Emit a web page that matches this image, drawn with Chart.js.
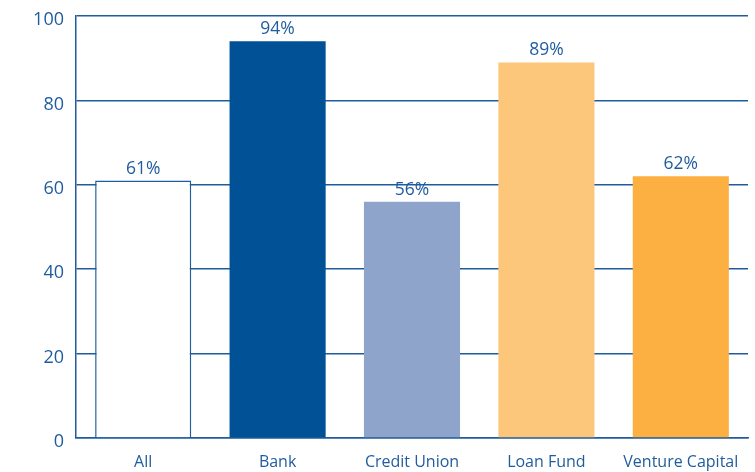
<!DOCTYPE html>
<html>
<head>
<meta charset="utf-8">
<script src="https://cdn.jsdelivr.net/npm/chart.js@4"></script>
<style>
  html, body { margin: 0; padding: 0; background: #fff; }
  #wrap { width: 755px; height: 472px; }
</style>
</head>
<body>
<div id="wrap"><canvas id="chart"></canvas></div>
<script>
const categories = ['All', 'Bank', 'Credit Union', 'Loan Fund', 'Venture Capital'];
const values = [61, 94, 56, 89, 62];
const barColors = ['#ffffff', '#005196', '#8fa4cb', '#fcc77b', '#fbb041'];
const yTicks = [0, 20, 40, 60, 80, 100];

const blue = '#1f5c9e';
const font = '"Open Sans", "DejaVu Sans", sans-serif';

// percent labels above each bar
const valueLabels = {
    id: 'valueLabels',
    afterDatasetsDraw(chart) {
        const ctx = chart.ctx;
        const meta = chart.getDatasetMeta(0);
        ctx.save();
        ctx.fillStyle = blue;
        ctx.font = '17.5px ' + font;
        ctx.textAlign = 'center';
        ctx.textBaseline = 'middle';
        meta.data.forEach((bar, i) => {
            ctx.fillText(values[i] + '%', bar.x, bar.y - 12);
        });
        ctx.restore();
    }
};

new Chart(document.getElementById('chart'), {
    type: 'bar',
    data: {
        labels: categories,
        datasets: [{
            data: values,
            backgroundColor: barColors,
            borderColor: barColors.map((c, i) => i === 0 ? blue : c),
            borderWidth: values.map((v, i) => i === 0 ? 1.5 : 0),
            categoryPercentage: 1,
            barPercentage: 0.715
        }]
    },
    options: {
        responsive: true,
        maintainAspectRatio: false,
        animation: false,
        layout: { padding: { top: 16, right: 7 } },
        plugins: {
            legend: { display: false },
            tooltip: { enabled: false }
        },
        scales: {
            x: {
                grid: { display: false, drawTicks: false },
                border: { color: blue, width: 1.5 },
                ticks: { color: blue, font: { family: font, size: 16 }, padding: 15 },
                afterFit: s => { s.height = 34; }
            },
            y: {
                min: 0,
                max: 100,
                afterBuildTicks: s => { s.ticks = yTicks.map(v => ({ value: v })); },
                grid: { color: blue, lineWidth: 1.5, drawTicks: false },
                border: { color: blue, width: 1.5 },
                ticks: { color: blue, font: { family: font, size: 18 }, padding: 12, labelOffset: 4 },
                afterFit: s => {
                    s.width = 76;
                    s.paddingTop = 0;
                    s.paddingBottom = 0;
                }
            }
        }
    },
    plugins: [valueLabels]
});
</script>
</body>
</html>
